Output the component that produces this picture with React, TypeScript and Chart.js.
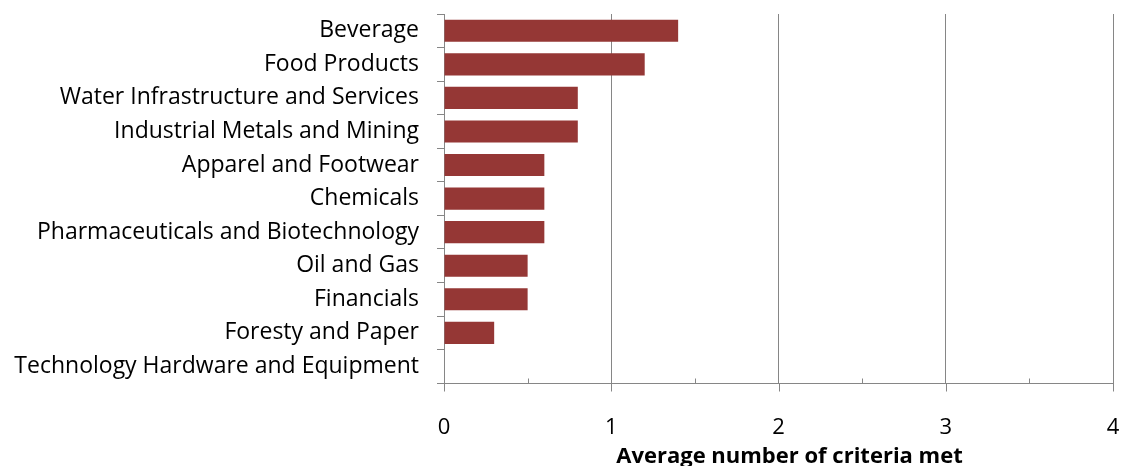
import React, { useEffect, useRef } from "react";
import { Chart, registerables } from "chart.js";

Chart.register(...registerables);

const categories = [
  "Beverage",
  "Food Products",
  "Water Infrastructure and Services",
  "Industrial Metals and Mining",
  "Apparel and Footwear",
  "Chemicals",
  "Pharmaceuticals and Biotechnology",
  "Oil and Gas",
  "Financials",
  "Foresty and Paper",
  "Technology Hardware and Equipment",
];
const values = [1.4, 1.2, 0.8, 0.8, 0.6, 0.6, 0.6, 0.5, 0.5, 0.3, 0];
const xTicks = [0, 1, 2, 3, 4];
const xMinorTicks = [0.5, 1.5, 2.5, 3.5];
const xTitle = "Average number of criteria met";

const FONT = "'Open Sans', sans-serif";
const AXIS = "#868686";

const tickPlugin = {
  id: "xTickMarks",
  afterDraw(chart: any) {
    const { ctx, scales, chartArea } = chart;
    const x = scales.x;
    ctx.save();
    ctx.strokeStyle = AXIS;
    ctx.lineWidth = 1;
    const yb = Math.round(chartArea.bottom) + 0.5;
    xTicks.forEach((v) => {
      const px = Math.round(x.getPixelForValue(v)) + 0.5;
      ctx.beginPath();
      ctx.moveTo(px, yb);
      ctx.lineTo(px, yb + 8);
      ctx.stroke();
    });
    xMinorTicks.forEach((v) => {
      const px = Math.round(x.getPixelForValue(v)) + 0.5;
      ctx.beginPath();
      ctx.moveTo(px, yb);
      ctx.lineTo(px, yb - 5);
      ctx.stroke();
    });
    // axis title, placed as in the reference (slightly right of the plot centre)
    ctx.fillStyle = "#000";
    ctx.font = `bold 22px ${FONT}`;
    ctx.textAlign = "center";
    ctx.textBaseline = "alphabetic";
    ctx.fillText(xTitle, (chartArea.left + chartArea.right) / 2 + 11, chart.height - 3);
    ctx.restore();
  },
};

export default function App() {
  const ref = useRef<HTMLCanvasElement>(null);
  useEffect(() => {
    if (!ref.current) return;
    const chart = new Chart(ref.current, {
      type: "bar",
      data: {
        labels: categories,
        datasets: [
          {
            data: values,
            backgroundColor: "#953735",
            borderWidth: 0,
            barPercentage: 0.66,
            categoryPercentage: 1,
          },
        ],
      },
      options: {
        indexAxis: "y",
        animation: false,
        responsive: true,
        maintainAspectRatio: false,
        layout: { padding: { top: 14, right: 9, bottom: -1, left: 0 } },
        plugins: { legend: { display: false }, tooltip: { enabled: false } },
        scales: {
          x: {
            min: 0,
            max: 4,
            afterBuildTicks: (axis: any) => {
              axis.ticks = xTicks.map((v) => ({ value: v }));
            },
            afterFit: (axis: any) => {
              axis.paddingLeft = 0;
              axis.paddingRight = 0;
            },
            ticks: {
              color: "#000",
              font: { family: FONT, size: 22 },
              padding: 31,
              maxRotation: 0,
            },
            grid: {
              drawTicks: false,
              color: (c: any) => (c.tick && c.tick.value > 0 ? AXIS : "rgba(0,0,0,0)"),
              lineWidth: 1,
            },
            border: { display: true, color: AXIS, width: 1 },
            title: {
              display: true,
              text: xTitle,
              color: "rgba(0,0,0,0)",
              font: { family: FONT, size: 22, weight: "bold" },
              padding: { top: -31, bottom: 0 },
            },
          },
          y: {
            afterFit: (axis: any) => {
              axis.width = 444;
              axis.paddingTop = 0;
              axis.paddingBottom = 0;
            },
            ticks: {
              color: "#000",
              font: { family: FONT, size: 23 },
              padding: 18,
              autoSkip: false,
            },
            grid: {
              offset: true,
              drawOnChartArea: false,
              drawTicks: true,
              tickLength: 7,
              color: AXIS,
            },
            border: { display: true, color: AXIS, width: 1 },
          },
        },
      },
      plugins: [tickPlugin],
    });
    return () => chart.destroy();
  }, []);
  return (
    <div style={{ position: "absolute", left: 0, top: 0, width: 1122, height: 466 }}>
      <canvas ref={ref} />
    </div>
  );
}
